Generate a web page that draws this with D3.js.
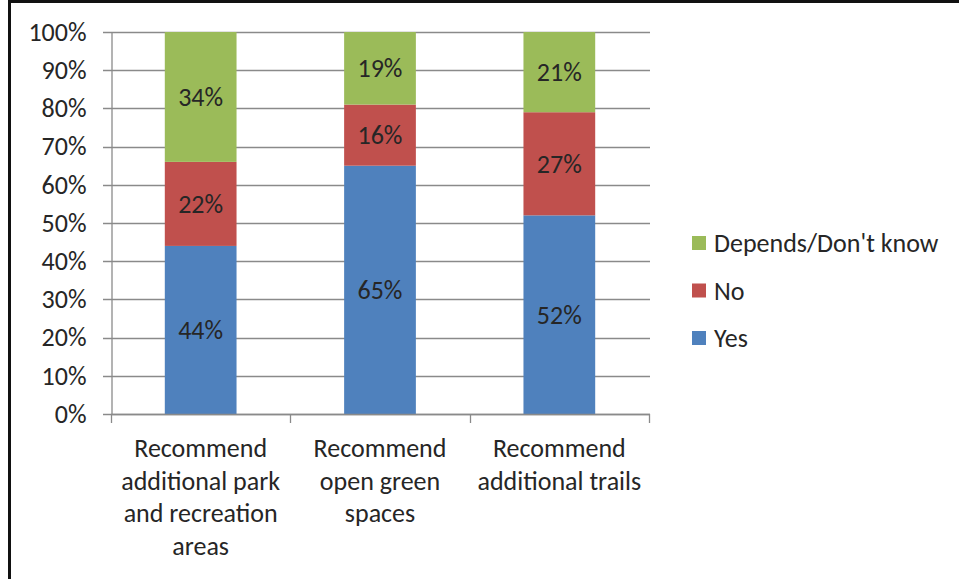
<!DOCTYPE html>
<html>
<head>
<meta charset="utf-8">
<title>Recommendations</title>
<script src="https://cdn.jsdelivr.net/npm/d3@7"></script>
<style>
  body { margin: 0; background: #fff; }
  svg { display: block; }
  text { font-family: Carlito, Lato, "Open Sans", sans-serif; fill: #262626; }
</style>
</head>
<body>
<svg width="959" height="579"></svg>
<script>
// chart data
var categories = ["park", "green", "trails"];
var categoryLines = [
    ["Recommend", "additional park", "and recreation", "areas"],
    ["Recommend", "open green", "spaces"],
    ["Recommend", "additional trails"]
];
var seriesNames = ["Yes", "No", "Depends/Don't know"];
var yesValues = [44, 65, 52];
var noValues = [22, 16, 27];
var dependsValues = [34, 19, 21];
var yTicks = [0, 10, 20, 30, 40, 50, 60, 70, 80, 90, 100];

var colors = { "Yes": "#4f81bd", "No": "#c0504d", "Depends/Don't know": "#9bbb59" };
var fontSize = "26px";

var svg = d3.select("svg");

// frame (only left + top visible in the picture)
svg.append("rect")
    .attr("x", 9.5).attr("y", 1.5)
    .attr("width", 980).attr("height", 600)
    .attr("fill", "none")
    .attr("stroke", "#111")
    .attr("stroke-width", 3);

var margin = { left: 111, right: 649, top: 32, bottom: 414 };

var x = d3.scaleBand()
    .domain(categories)
    .range([margin.left, margin.right])
    .paddingInner(0.6)
    .paddingOuter(0.3);

var y = d3.scaleLinear().domain([0, 100]).range([margin.bottom, margin.top]);

// gridlines
svg.append("g")
    .selectAll("line")
    .data(yTicks)
    .enter().append("line")
    .attr("x1", margin.left - 8)
    .attr("x2", margin.right + 1)
    .attr("y1", function(d) { return Math.round(y(d)) + 0.5; })
    .attr("y2", function(d) { return Math.round(y(d)) + 0.5; })
    .attr("stroke", "#8a8a8a")
    .attr("stroke-width", 1.3);

// stacked data
var table = categories.map(function(c, i) {
    return { cat: c, "Yes": yesValues[i], "No": noValues[i], "Depends/Don't know": dependsValues[i] };
});
var stack = d3.stack().keys(seriesNames)(table);

var layer = svg.append("g")
    .selectAll("g")
    .data(stack)
    .enter().append("g")
    .attr("fill", function(d) { return colors[d.key]; });

layer.selectAll("rect")
    .data(function(d) { return d; })
    .enter().append("rect")
    .attr("x", function(d) { return x(d.data.cat); })
    .attr("width", x.bandwidth())
    .attr("y", function(d) { return y(d[1]); })
    .attr("height", function(d) { return y(d[0]) - y(d[1]); });

layer.selectAll("text")
    .data(function(d) { return d; })
    .enter().append("text")
    .attr("x", function(d) { return x(d.data.cat) + x.bandwidth() / 2; })
    .attr("y", function(d) { return (y(d[0]) + y(d[1])) / 2; })
    .attr("dy", "0.35em")
    .attr("text-anchor", "middle")
    .style("font-size", fontSize)
    .text(function(d) { return (d[1] - d[0]) + "%"; });

// y axis
var yAxis = d3.axisLeft(y)
    .tickValues(yTicks)
    .tickSize(0)
    .tickPadding(25)
    .tickFormat(function(d) { return d + "%"; });

var gy = svg.append("g")
    .attr("transform", "translate(" + (margin.left + 0.5) + ",0)")
    .call(yAxis);
gy.select(".domain").attr("stroke", "#8a8a8a").attr("stroke-width", 1.3);
gy.selectAll("text").style("font-size", fontSize).attr("font-family", null);

// x axis line + ticks at band boundaries
svg.append("line")
    .attr("x1", margin.left).attr("x2", margin.right + 1)
    .attr("y1", margin.bottom + 0.5).attr("y2", margin.bottom + 0.5)
    .attr("stroke", "#8a8a8a").attr("stroke-width", 1.3);

var bounds = [margin.left].concat(categories.map(function(c) { return x(c) - x.step() * x.paddingInner() / 2 + x.step(); }));
svg.append("g")
    .selectAll("line")
    .data(bounds)
    .enter().append("line")
    .attr("x1", function(d) { return Math.round(d) + 0.5; })
    .attr("x2", function(d) { return Math.round(d) + 0.5; })
    .attr("y1", margin.bottom)
    .attr("y2", margin.bottom + 9)
    .attr("stroke", "#8a8a8a").attr("stroke-width", 1.3);

// category labels
var catLabel = svg.append("g")
    .selectAll("text")
    .data(categories)
    .enter().append("text")
    .attr("text-anchor", "middle")
    .style("font-size", fontSize)
    .attr("transform", function(d) { return "translate(" + (x(d) + x.bandwidth() / 2) + ",457)"; });

catLabel.selectAll("tspan")
    .data(function(d, i) { return categoryLines[i]; })
    .enter().append("tspan")
    .attr("x", 0)
    .attr("y", function(d, i) { return i * 32.7; })
    .text(function(d) { return d; });

// legend (reverse order)
var legendItems = seriesNames.slice().reverse();
var legend = svg.append("g")
    .selectAll("g")
    .data(legendItems)
    .enter().append("g")
    .attr("transform", function(d, i) { return "translate(692," + (243 + i * 47.5) + ")"; });

legend.append("rect")
    .attr("x", 0).attr("y", -7)
    .attr("width", 14).attr("height", 14)
    .attr("fill", function(d) { return colors[d]; });

legend.append("text")
    .attr("x", 22)
    .attr("dy", "0.35em")
    .style("font-size", fontSize)
    .text(function(d) { return d; });
</script>
</body>
</html>
